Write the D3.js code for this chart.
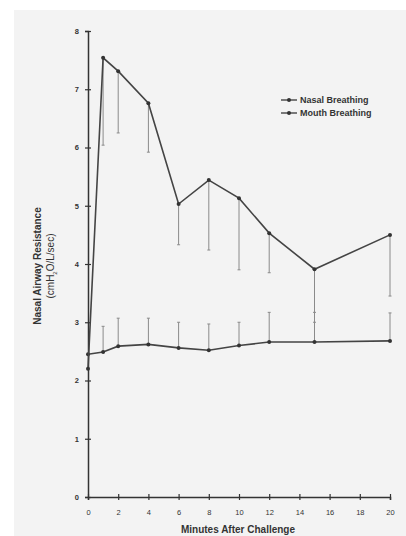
<!DOCTYPE html>
<html>
<head>
<meta charset="utf-8">
<script src="https://cdn.jsdelivr.net/npm/d3@7"></script>
<style>
    body { margin: 0; background: #fff; }
    svg { display: block; }
    text { font-family: "Liberation Sans", Arial, sans-serif; fill: #333; }
</style>
</head>
<body>
<div id="chart"></div>
<script>
// data
var nasalMinutes = [0, 1, 2, 4, 6, 8, 10, 12, 15, 20];
var nasalValues = [2.45, 2.49, 2.59, 2.62, 2.56, 2.52, 2.6, 2.66, 2.66, 2.68];
var nasalUpper = [null, 2.93, 3.07, 3.07, 3.0, 2.97, 3.0, 3.17, 3.17, 3.16];

var mouthMinutes = [0, 1, 2, 4, 6, 8, 10, 12, 15, 20];
var mouthValues = [2.2, 7.54, 7.31, 6.76, 5.03, 5.44, 5.13, 4.53, 3.91, 4.5];
var mouthLower = [null, 6.04, 6.25, 5.92, 4.33, 4.24, 3.9, 3.85, 3.0, 3.45];

var xTicks = [0, 2, 4, 6, 8, 10, 12, 14, 16, 18, 20];
var yTicks = [0, 1, 2, 3, 4, 5, 6, 7, 8];
var legendLabels = ["Nasal Breathing", "Mouth Breathing"];

var width = 406, height = 536;
var margin = { top: 31, right: 16, bottom: 39, left: 88 };

var svg = d3.select("#chart")
    .append("svg")
    .attr("width", width)
    .attr("height", height);

// scanned page tone
svg.append("rect")
    .attr("x", 14).attr("y", 10)
    .attr("width", width - 14).attr("height", height - 10)
    .attr("fill", "#f3f3f3");

var x = d3.scaleLinear()
    .domain([0, 20])
    .range([margin.left, width - margin.right]);

var y = d3.scaleLinear()
    .domain([0, 8])
    .range([height - margin.bottom, margin.top]);

// axes
var xAxis = svg.append("g")
    .attr("transform", "translate(0," + y(0) + ")")
    .call(d3.axisBottom(x).tickValues(xTicks).tickSize(3).tickPadding(10));
xAxis.selectAll(".tick line").attr("y1", -3).attr("stroke", "#333").attr("stroke-width", 1.2);
xAxis.select(".domain").attr("stroke", "#333").attr("stroke-width", 1.5);
xAxis.selectAll("text").style("font-size", "7.5px").attr("fill", "#555");

var yAxis = svg.append("g")
    .attr("transform", "translate(" + x(0) + ",0)")
    .call(d3.axisLeft(y).tickValues(yTicks).tickSize(3).tickPadding(6));
yAxis.selectAll(".tick line").attr("x1", 3).attr("x2", -3).attr("stroke", "#333").attr("stroke-width", 1.2);
yAxis.select(".domain").attr("stroke", "#333").attr("stroke-width", 1.5);
yAxis.selectAll("text").style("font-size", "7.5px").style("font-weight", "bold").attr("fill", "#333");

// axis titles
svg.append("text")
    .attr("x", 238)
    .attr("y", 533)
    .attr("text-anchor", "middle")
    .style("font-size", "10px")
    .style("font-weight", "bold")
    .text("Minutes After Challenge");

var yTitle = svg.append("text")
    .attr("transform", "translate(41,266) rotate(-90)")
    .attr("text-anchor", "middle")
    .style("font-size", "10px")
    .style("font-weight", "bold");
yTitle.append("tspan").attr("x", 0).attr("dy", 0).text("Nasal Airway Resistance");
var unit = yTitle.append("tspan").attr("x", 0).attr("dy", 13).style("font-weight", "normal");
unit.append("tspan").text("(cmH");
unit.append("tspan").attr("baseline-shift", "sub").style("font-size", "6px").text("2");
unit.append("tspan").attr("baseline-shift", "0").text("O/L/sec)");

// error bars
function drawBars(mins, vals, ends) {
    mins.forEach(function (m, i) {
        if (ends[i] == null) return;
        svg.append("line")
            .attr("x1", x(m)).attr("x2", x(m))
            .attr("y1", y(vals[i])).attr("y2", y(ends[i]))
            .attr("stroke", "#8a8a8a").attr("stroke-width", 1);
        svg.append("line")
            .attr("x1", x(m) - 1.5).attr("x2", x(m) + 1.5)
            .attr("y1", y(ends[i])).attr("y2", y(ends[i]))
            .attr("stroke", "#8a8a8a").attr("stroke-width", 1);
    });
}
drawBars(mouthMinutes, mouthValues, mouthLower);
drawBars(nasalMinutes, nasalValues, nasalUpper);

// series lines and points
var line = d3.line()
    .x(function (d) { return x(d[0]); })
    .y(function (d) { return y(d[1]); });

function drawSeries(mins, vals) {
    var pts = mins.map(function (m, i) { return [m, vals[i]]; });
    svg.append("path")
        .datum(pts)
        .attr("d", line)
        .attr("fill", "none")
        .attr("stroke", "#444")
        .attr("stroke-width", 1.6);
    svg.selectAll(null)
        .data(pts)
        .enter()
        .append("circle")
        .attr("cx", function (d) { return x(d[0]); })
        .attr("cy", function (d) { return y(d[1]); })
        .attr("r", 2)
        .attr("fill", "#333");
}
drawSeries(nasalMinutes, nasalValues);
drawSeries(mouthMinutes, mouthValues);

// legend
var legend = svg.append("g").attr("transform", "translate(281,100)");
legendLabels.forEach(function (lab, i) {
    var g = legend.append("g").attr("transform", "translate(0," + i * 13 + ")");
    g.append("line").attr("x1", 0).attr("x2", 16).attr("y1", 0).attr("y2", 0)
        .attr("stroke", "#444").attr("stroke-width", 1.4);
    g.append("circle").attr("cx", 8).attr("cy", 0).attr("r", 2).attr("fill", "#333");
    g.append("text").attr("x", 19).attr("y", 3)
        .style("font-size", "9px").style("font-weight", "bold")
        .text(lab);
});
</script>
</body>
</html>
